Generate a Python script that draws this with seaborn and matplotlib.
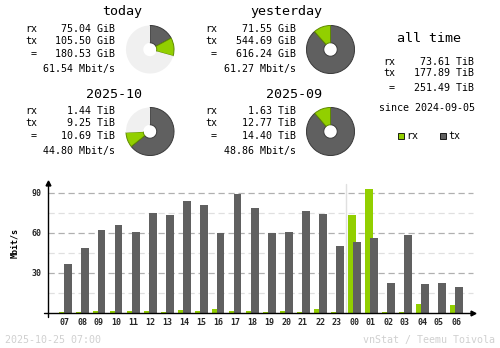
import matplotlib
matplotlib.use("Agg")
import matplotlib.pyplot as plt
from matplotlib.patches import Rectangle, Circle
import numpy as np
import pandas as pd
import seaborn as sns

# ---- summary data ----
periods = ["today", "yesterday", "2025-10", "2025-09"]
period_rx = [75.04, 71.55, 1.44, 1.63]
period_tx = [105.50, 544.69, 9.25, 12.77]
period_total = [180.53, 616.24, 10.69, 14.40]
period_unit = ["GiB", "GiB", "TiB", "TiB"]
period_rate = [61.54, 61.27, 44.80, 48.86]
# the donut of a running period is scaled against the previous period's total
period_reference = [616.24, 616.24, 14.40, 14.40]

alltime_rx = 73.61
alltime_tx = 177.89
alltime_total = 251.49
alltime_unit = "TiB"
since_date = "2024-09-05"

# ---- hourly data (Mbit/s) ----
hours = ["07", "08", "09", "10", "11", "12", "13", "14", "15", "16", "17", "18",
         "19", "20", "21", "22", "23", "00", "01", "02", "03", "04", "05", "06"]
hour_rx = [1.0, 1.0, 1.75, 1.75, 1.75, 1.75, 1.0, 2.5, 1.75, 3.25, 1.75, 1.75,
           1.0, 1.75, 1.0, 3.25, 1.0, 73.75, 93.25, 1.0, 1.0, 7.0, 0.0, 6.25]
hour_tx = [37.0, 49.0, 62.5, 66.25, 61.0, 74.75, 73.75, 84.25, 81.25, 60.25, 89.5, 79.0,
           60.25, 61.0, 76.75, 74.5, 50.5, 53.5, 56.5, 22.75, 58.75, 22.0, 22.75, 19.75]
y_ticks = [30, 60, 90]

header_stamp = "2025-10-25 07:00"
footer_credit = "vnStat / Teemu Toivola"

RX = "#92cf00"
RX_EDGE = "#5f8a00"
TX = "#606060"
TX_EDGE = "#3a3a3a"
UNUSED = "#f0f0f0"
LINE = "#b0b0b0"
LINE_L = "#e0e0e0"
FAINT = "#d0d0d0"

sns.set_theme(style="white")
plt.rcParams["font.family"] = ["DejaVu Sans Mono", "DejaVu Sans"]

W, H = 500, 348
fig = plt.figure(figsize=(W / 100, H / 100), dpi=100)
fig.patch.set_facecolor("white")


def fx(x):
    return x / W


def fy(y):
    return 1 - y / H


def put(x, y, s, size=7.2, ha="left", color="black", **kw):
    fig.text(fx(x), fy(y), s, fontsize=size, ha=ha, va="center", color=color, **kw)


# ---- period blocks ----
blocks = [
    # label x, value right x, title right x, top y, pie centre x
    (25, 115, 142, 12, 150),
    (205, 296, 322, 12, 330.5),
    (25, 115, 142, 94, 150),
    (205, 296, 322, 94, 330.5),
]
R = 24.5
for i, (lx, vx, tx_, ty, pcx) in enumerate(blocks):
    put(tx_, ty, periods[i], size=9.6, ha="right")
    rows = [("rx", period_rx[i]), ("tx", period_tx[i]), (" =", period_total[i])]
    offs = [17, 29, 42]
    for (lab, val), dy in zip(rows, offs):
        put(lx, ty + dy, lab)
        put(vx, ty + dy, f"{val:.2f} {period_unit[i]}", ha="right")
    put(vx, ty + 57, f"{period_rate[i]:.2f} Mbit/s", ha="right")

    # donut
    pcy = ty + 37.5
    pax = fig.add_axes([fx(pcx - R), fy(pcy + R), 2 * R / W, 2 * R / H])
    denom = max(period_total[i], period_reference[i])
    tx_frac = period_tx[i] / denom
    rx_frac = period_rx[i] / denom
    rest = max(0.0, 1 - tx_frac - rx_frac)
    wedges, _ = pax.pie([tx_frac, rx_frac, rest], colors=[TX, RX, UNUSED],
                        startangle=90, counterclock=False, normalize=False,
                        wedgeprops=dict(width=0.72, linewidth=0))
    wedges[0].set_edgecolor(TX_EDGE)
    wedges[0].set_linewidth(0.7)
    wedges[1].set_edgecolor(RX_EDGE)
    wedges[1].set_linewidth(0.7)
    pax.set_xlim(-1.02, 1.02)
    pax.set_ylim(-1.02, 1.02)
    pax.set_aspect("equal")
    pax.axis("off")

# ---- all time block ----
put(429, 39, "all time", size=9.6, ha="center")
for lab, val, yy in [("rx", alltime_rx, 62), ("tx", alltime_tx, 73), (" =", alltime_total, 88)]:
    put(383, yy, lab)
    put(474, yy, f"{val:.2f} {alltime_unit}", ha="right")
put(379, 108, f"since {since_date}")

# legend
for sx, col, lab in [(398, RX, "rx"), (440, TX, "tx")]:
    fig.add_artist(Rectangle((fx(sx), fy(139)), 6 / W, 6 / H, transform=fig.transFigure,
                             facecolor=col, edgecolor="black", linewidth=0.6))
    put(sx + 8, 136, lab)

# ---- hourly bar chart ----
PXU = 17.0            # pixels per hour slot
PXV = 120.0 / 90.0    # pixels per Mbit/s
ax_left, ax_right, ax_top, ax_bottom = 44, 478, 180, 317
x0 = -1 - (48 - ax_left) / PXU
x1 = -1 + (ax_right - 48) / PXU
y0 = -(ax_bottom - 313) / PXV
y1 = (313 - ax_top) / PXV
ax = fig.add_axes([fx(ax_left), fy(ax_bottom), (ax_right - ax_left) / W, (ax_bottom - ax_top) / H])
ax.set_facecolor("none")

idx = np.arange(len(hours))
shift = 2.5 / PXU
df_rx = pd.DataFrame({"pos": idx - shift, "rate": hour_rx})
df_tx = pd.DataFrame({"pos": idx + shift, "rate": hour_tx})
bw = 8.0 / PXU
sns.barplot(data=df_rx, x="pos", y="rate", native_scale=True, width=bw,
            color=RX, saturation=1, linewidth=0, ax=ax, zorder=3)
sns.barplot(data=df_tx, x="pos", y="rate", native_scale=True, width=bw,
            color=TX, saturation=1, linewidth=0, ax=ax, zorder=4)

# grid
grid_end = 24.0
for v in [15, 45, 75]:
    ax.plot([-1, grid_end], [v, v], color=LINE_L, lw=0.9, ls=(0, (5, 3)), zorder=1)
for v in y_ticks:
    ax.plot([-1, grid_end], [v, v], color=LINE, lw=0.9, ls=(0, (5, 3)), zorder=1)

# day separator
sep = hours.index("00") - 0.5
ax.plot([sep, sep], [0, 97], color=LINE_L, lw=1.0, zorder=2)

# axes lines with arrows
ax.plot([-1, -1], [y0, y1 - 1.5], color="black", lw=1.0, zorder=6, clip_on=False)
ax.plot([-1], [y1 - 2.0], marker="^", color="black", markersize=3.5, zorder=6, clip_on=False)
ax.plot([x0, x1 - 0.3], [0, 0], color="black", lw=1.0, zorder=6, clip_on=False)
ax.plot([x1 - 0.3], [0], marker=">", color="black", markersize=3.5, zorder=6, clip_on=False)

ax.set_xlim(x0, x1)
ax.set_ylim(y0, y1)
ax.set_xticks(idx)
ax.set_xticklabels(hours, fontsize=6, fontweight="bold")
ax.set_yticks(y_ticks)
ax.set_yticklabels([str(v) for v in y_ticks], fontsize=6, fontweight="bold")
ax.tick_params(axis="both", length=0)
ax.tick_params(axis="x", pad=1)
ax.tick_params(axis="y", pad=1.5)
ax.set_xlabel("")
ax.set_ylabel("")
for s in ax.spines.values():
    s.set_visible(False)

put(15, 243, "Mbit/s", size=6, ha="center", rotation=90, fontweight="bold")

# footer
put(5, 340, header_stamp, color=FAINT)
put(495, 340, footer_credit, ha="right", color=FAINT)

fig.savefig("out.png", dpi=100, facecolor="white")
